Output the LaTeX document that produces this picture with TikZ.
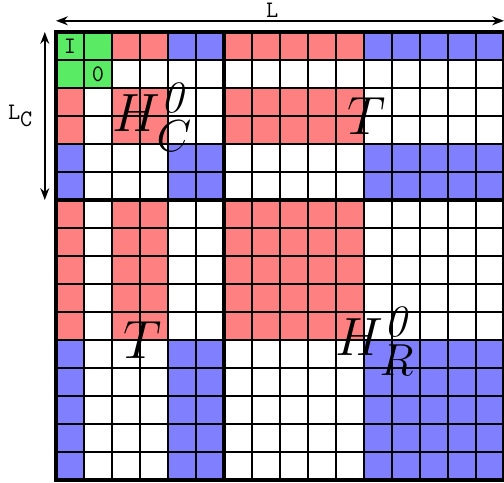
\documentclass[tikz,border=0pt]{standalone}
\usetikzlibrary{arrows.meta}
\definecolor{cellred}{RGB}{255,128,128}
\definecolor{cellblue}{RGB}{128,128,255}
\definecolor{cellgreen}{RGB}{90,235,100}
\tikzset{blocklabel/.style={font=\Huge, scale=1.1, inner sep=0pt}}
\newcommand{\lowsub}[1]{\raisebox{-3pt}{$\scriptstyle #1$}}
\begin{document}
\begin{tikzpicture}[x=0.5cm, y=-0.5cm]
  \useasboundingbox (-2,-1.143) rectangle (16,16.107);
  % Green corner
  \fill[cellgreen] (0,0) rectangle (2,2);
  % Red blocks
  \foreach \a/\b in {2/4,6/11}{
    \fill[cellred] (\a,0) rectangle (\b,1);
    \fill[cellred] (0,\a) rectangle (1,\b);
    \foreach \c/\d in {2/4,6/11}
      \fill[cellred] (\a,\c) rectangle (\b,\d);
  }
  % Blue blocks
  \foreach \a/\b in {4/6,11/16}{
    \fill[cellblue] (\a,0) rectangle (\b,1);
    \fill[cellblue] (0,\a) rectangle (1,\b);
    \foreach \c/\d in {4/6,11/16}
      \fill[cellblue] (\a,\c) rectangle (\b,\d);
  }
  % Grid
  \foreach \i in {0,...,16}{
    \draw[line width=0.6pt] (\i,0) -- (\i,16);
    \draw[line width=0.6pt] (0,\i) -- (16,\i);
  }
  % Block borders
  \draw[line width=2pt] (0,0) rectangle (16,16);
  \draw[line width=2pt] (6,0) -- (6,16);
  \draw[line width=2pt] (0,6) -- (16,6);
  % Marked cells
  \draw[line width=1pt] (0,0) rectangle (1,1);
  \draw[line width=1pt] (1,1) rectangle (2,2);
  \node[font=\large\ttfamily] (cellI) at (0.5,0.5) {I};
  \node[font=\large\ttfamily] (cellO) at (1.5,1.5) {0};
  % Block labels
  \node[blocklabel] (hc) at (3.45,3.05) {$H^{\mathit{0}}_{\lowsub{C}}$};
  \node[blocklabel] (tup) at (11.1,3) {$T$};
  \node[blocklabel] (tlo) at (3.1,11) {$T$};
  \node[blocklabel] (hr) at (11.4,11.05) {$H^{\mathit{0}}_{\lowsub{R}}$};
  % Dimensions
  \coordinate (lleft) at (0,-0.4);
  \coordinate (lright) at (16,-0.4);
  \coordinate (ctop) at (-0.4,0);
  \coordinate (cbot) at (-0.4,6);
  \draw[line width=1pt, {Stealth[length=6pt]}-{Stealth[length=6pt]}] (lleft) -- (lright)
    node[midway, above, font=\large\ttfamily, xshift=-4pt, inner sep=1pt] (lab) {L};
  \draw[line width=1pt, {Stealth[length=6pt]}-{Stealth[length=6pt]}] (ctop) -- (cbot)
    node[midway, left, font=\large\ttfamily, xshift=-2pt] (labc) {L$_{\texttt{C}}$};
\end{tikzpicture}
\end{document}
